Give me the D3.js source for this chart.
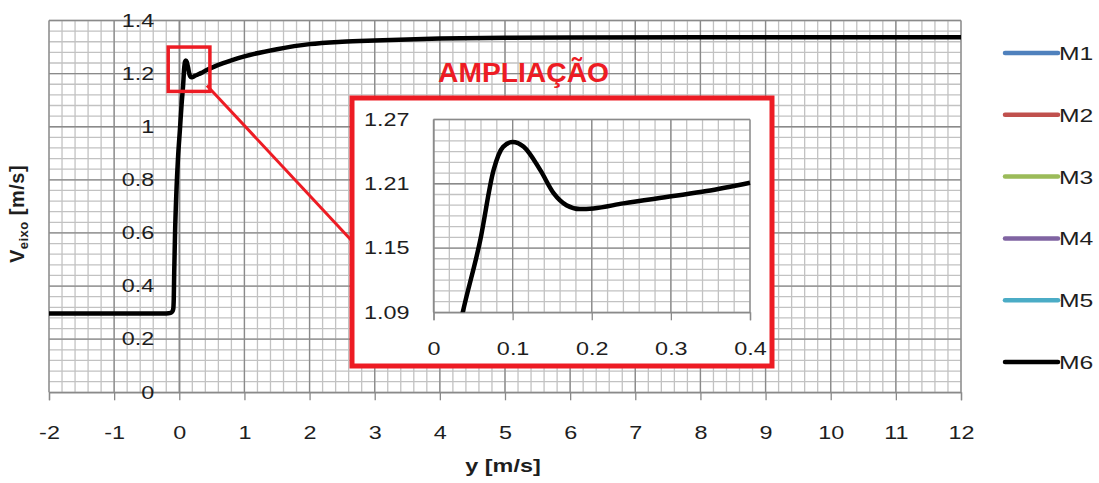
<!DOCTYPE html>
<html><head><meta charset="utf-8">
<script src="https://cdn.jsdelivr.net/npm/d3@7"></script>
<style>
html,body{margin:0;padding:0;background:#fff;}
svg text{font-family:"Liberation Sans",Arial,sans-serif;}
</style></head>
<body><svg id="c" width="1099" height="483"></svg>
<script>
// ---- data ----
const xValues = [-2, -1, -0.5, -0.2, -0.13, -0.105, -0.092, -0.085, -0.078, -0.065, -0.045, -0.02, 0.01, 0.037, 0.059, 0.076, 0.088, 0.1, 0.114, 0.135, 0.152, 0.168, 0.185, 0.202, 0.24, 0.303, 0.345, 0.4, 0.6, 0.8, 1.0, 1.5, 2.0, 2.5, 3.0, 4.0, 5.0, 6.0, 8.0, 10.0, 12.0];
const m6Values = [0.297, 0.297, 0.297, 0.297, 0.299, 0.305, 0.315, 0.35, 0.45, 0.6, 0.75, 0.88, 0.99, 1.09, 1.157, 1.223, 1.2445, 1.249, 1.2445, 1.2227, 1.201, 1.19, 1.1864, 1.187, 1.1917, 1.1985, 1.2032, 1.211, 1.233, 1.25, 1.265, 1.292, 1.311, 1.32, 1.325, 1.332, 1.335, 1.336, 1.337, 1.337, 1.337];
const seriesNames = ["M1", "M2", "M3", "M4", "M5", "M6"];
const seriesColors = ["#4F81BD", "#C0504D", "#9BBB59", "#8064A2", "#4BACC6", "#000000"];
const xTicksMain = [-2,-1,0,1,2,3,4,5,6,7,8,9,10,11,12];
const yTicksMain = [0,0.2,0.4,0.6,0.8,1,1.2,1.4];
const xTicksInset = [0,0.1,0.2,0.3,0.4];
const yTicksInset = [1.09,1.15,1.21,1.27];
const zoomTitle = "AMPLIAÇÃO";

const SX = 1.3; // horizontal stretch of text, as in the reference
function stretch(sel){
  sel.each(function(){
    const t = d3.select(this);
    const xx = +t.attr("x") || 0;
    t.attr("x", xx/SX).attr("transform", `scale(${SX},1)`);
  });
}
const TXT = "#1e1e1e";
const svg = d3.select("#c");
const pts = xValues.map((x,i)=>[x, m6Values[i]]);

// ---- main chart ----
const L=49,R=961,T=20.5,B=392.3;
const x = d3.scaleLinear().domain([-2,12]).range([L,R]);
const y = d3.scaleLinear().domain([0,1.4]).range([B,T]);
const minorC="#c2c2c2", majorC="#8a8a8a";
const gMain = svg.append("g");
gMain.selectAll(".vmin").data(d3.range(-2,12.001,0.2)).join("line")
  .attr("x1",d=>x(d)).attr("x2",d=>x(d)).attr("y1",T).attr("y2",B)
  .attr("stroke",minorC).attr("stroke-width",1.3);
gMain.selectAll(".hmin").data(d3.range(0,1.4001,0.04)).join("line")
  .attr("y1",d=>y(d)).attr("y2",d=>y(d)).attr("x1",L).attr("x2",R)
  .attr("stroke",minorC).attr("stroke-width",1.3);
gMain.selectAll(".vmaj").data(xTicksMain).join("line")
  .attr("x1",d=>x(d)).attr("x2",d=>x(d)).attr("y1",T).attr("y2",B)
  .attr("stroke",majorC).attr("stroke-width",1.3);
gMain.selectAll(".hmaj").data(yTicksMain).join("line")
  .attr("y1",d=>y(d)).attr("y2",d=>y(d)).attr("x1",L).attr("x2",R)
  .attr("stroke",majorC).attr("stroke-width",1.3);

// x axis at bottom
const xAxis = d3.axisBottom(x).tickValues(xTicksMain).tickSize(8).tickPadding(26).tickFormat(d=>String(d));
const gx = svg.append("g").attr("transform",`translate(0,${B})`).call(xAxis);
gx.select(".domain").attr("stroke",majorC).attr("stroke-width",1.3);
gx.selectAll(".tick line").attr("stroke",majorC).attr("stroke-width",1.3);
gx.selectAll("text").attr("font-size",18).attr("fill",TXT).attr("font-family","Liberation Sans, Arial, sans-serif").call(stretch);

// y axis at x=0
const yAxis = d3.axisLeft(y).tickValues(yTicksMain).tickSize(0).tickPadding(25).tickFormat(d=>String(+d.toFixed(1)));
const gy = svg.append("g").attr("transform",`translate(${x(0)},0)`).call(yAxis);
gy.select(".domain").attr("stroke",majorC).attr("stroke-width",1.3);
gy.selectAll("text").attr("font-size",18).attr("fill",TXT).attr("font-family","Liberation Sans, Arial, sans-serif").call(stretch);

const line = d3.line().x(d=>x(d[0])).y(d=>y(d[1])).curve(d3.curveMonotoneX);
svg.append("path").datum(pts).attr("d",line).attr("fill","none")
  .attr("stroke",seriesColors[5]).attr("stroke-width",4.5).attr("stroke-linejoin","round");

// axis titles
svg.append("text").attr("x",503).attr("y",472).attr("text-anchor","middle")
  .attr("font-size",18).attr("font-weight","bold").attr("fill",TXT).text("y [m/s]").call(stretch);
const yt = svg.append("text").attr("transform",`translate(24,214) rotate(-90)`)
  .attr("text-anchor","middle").attr("font-size",20).attr("font-weight","bold").attr("fill",TXT)
  .attr("letter-spacing",0.5);
yt.append("tspan").text("V");
yt.append("tspan").attr("font-size",13).attr("dy",4).text("eixo");
yt.append("tspan").attr("dy",-4).text(" [m/s]");

// legend
const leg = svg.append("g");
seriesNames.forEach((n,i)=>{
  const ly = 53 + i*61.8;
  leg.append("line").attr("x1",1005).attr("x2",1058).attr("y1",ly).attr("y2",ly)
    .attr("stroke",seriesColors[i]).attr("stroke-width",4.5).attr("stroke-linecap","round");
  leg.append("text").attr("x",1059).attr("y",ly+7).attr("font-size",19).attr("fill",TXT).text(n).call(stretch);
});

// zoom box and connector
const zx0 = 0, zx1 = 0.4, zy0 = 1.09, zy1 = 1.27;
const bx0 = x(-0.17), bx1 = x(0.47), by0 = y(1.30), by1 = y(1.133);
svg.append("line").attr("x1",bx1-3).attr("y1",by1-6).attr("x2",352).attr("y2",241)
  .attr("stroke","#ED1C24").attr("stroke-width",3);
svg.append("rect").attr("x",bx0).attr("y",by0).attr("width",bx1-bx0).attr("height",by1-by0)
  .attr("fill","none").attr("stroke","#ED1C24").attr("stroke-width",3.5);

svg.append("text").attr("x",438).attr("y",82).attr("font-size",27).attr("font-weight","bold")
  .attr("fill","#ED1C24").attr("textLength",171).attr("lengthAdjust","spacingAndGlyphs").text(zoomTitle);

// ---- inset ----
svg.append("rect").attr("x",352).attr("y",98).attr("width",420).attr("height",268)
  .attr("fill","#fff").attr("stroke","#ED1C24").attr("stroke-width",5);
const IL=433.5, IR=750, IT=119.5, IB=312.3;
const xi = d3.scaleLinear().domain([zx0,zx1]).range([IL,IR]);
const yi = d3.scaleLinear().domain([zy0,zy1]).range([IB,IT]);
const gIn = svg.append("g");
gIn.selectAll(".vmin").data(d3.range(0,0.4001,0.02)).join("line")
  .attr("x1",d=>xi(d)).attr("x2",d=>xi(d)).attr("y1",IT).attr("y2",IB)
  .attr("stroke",minorC).attr("stroke-width",1.3);
gIn.selectAll(".hmin").data(d3.range(0,18.5,1).map(k=>1.09+k*0.01)).join("line")
  .attr("y1",d=>yi(d)).attr("y2",d=>yi(d)).attr("x1",IL).attr("x2",IR)
  .attr("stroke",minorC).attr("stroke-width",1.3);
gIn.selectAll(".vmaj").data(xTicksInset).join("line")
  .attr("x1",d=>xi(d)).attr("x2",d=>xi(d)).attr("y1",IT).attr("y2",IB)
  .attr("stroke",majorC).attr("stroke-width",1.3);
gIn.selectAll(".hmaj").data(yTicksInset).join("line")
  .attr("y1",d=>yi(d)).attr("y2",d=>yi(d)).attr("x1",IL).attr("x2",IR)
  .attr("stroke",majorC).attr("stroke-width",1.3);
const gxi = svg.append("g").attr("transform",`translate(0,${IB})`)
  .call(d3.axisBottom(xi).tickValues(xTicksInset).tickSize(8).tickPadding(22).tickFormat(d=>String(d)));
gxi.select(".domain").attr("stroke",majorC).attr("stroke-width",1.3);
gxi.selectAll(".tick line").attr("stroke",majorC).attr("stroke-width",1.3);
gxi.selectAll("text").attr("font-size",18).attr("fill",TXT).attr("font-family","Liberation Sans, Arial, sans-serif").call(stretch);
const gyi = svg.append("g").attr("transform",`translate(${IL},0)`)
  .call(d3.axisLeft(yi).tickValues(yTicksInset).tickSize(0).tickPadding(24).tickFormat(d3.format(".2f")));
gyi.select(".domain").attr("stroke",majorC).attr("stroke-width",1.3);
gyi.selectAll("text").attr("font-size",18).attr("fill",TXT).attr("font-family","Liberation Sans, Arial, sans-serif").call(stretch);

svg.append("clipPath").attr("id","clipIn").append("rect")
  .attr("x",IL).attr("y",IT).attr("width",IR-IL+3).attr("height",IB-IT);
const lineIn = d3.line().x(d=>xi(d[0])).y(d=>yi(d[1])).curve(d3.curveMonotoneX);
svg.append("path").datum(pts.filter(p=>p[0]>=0 && p[0]<=0.41)).attr("d",lineIn)
  .attr("fill","none").attr("stroke","#000").attr("stroke-width",4.5)
  .attr("clip-path","url(#clipIn)");
</script></body></html>
